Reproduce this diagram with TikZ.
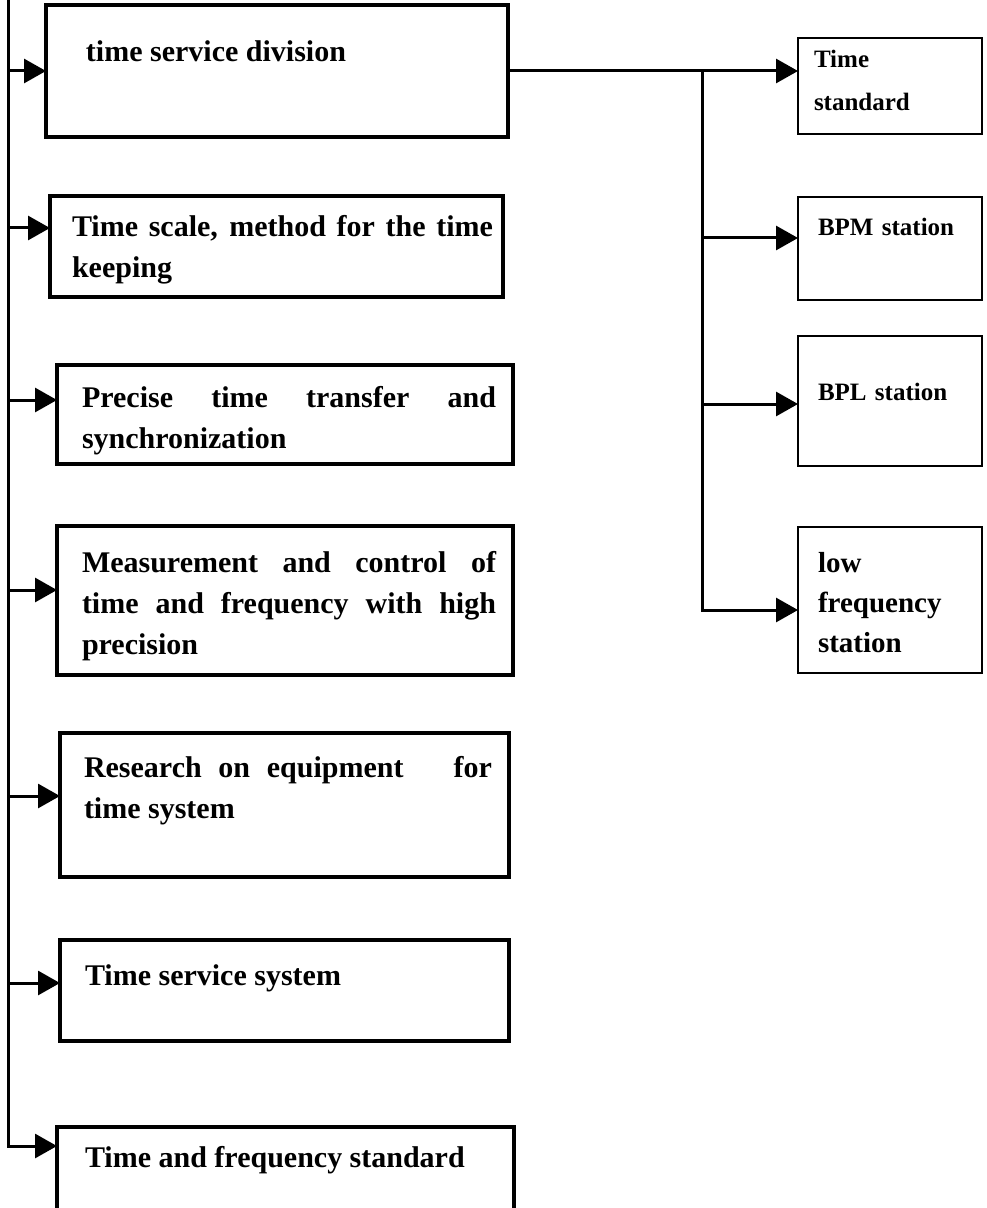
\documentclass[tikz,border=0pt]{standalone}
\usepackage{fontspec}
\setmainfont{Liberation Serif}
\usetikzlibrary{arrows.meta}
\hyphenpenalty=10000 % no hyphens in the boxes

\tikzset{
  unit/.style={draw, line width=2.2pt, anchor=north west, inner sep=0pt, outer sep=0pt,
    align=justify, font=\bfseries\fontsize{15}{20.5}\selectfont},
  station/.style={draw, line width=1.3pt, anchor=north west, inner sep=0pt, outer sep=0pt,
    text width=92pt, align=left, font=\bfseries\fontsize{12.5}{21.5}\selectfont},
  feed/.style={line width=1.5pt, -{Triangle[length=11pt,width=12pt]}},
  trunk/.style={line width=1.6pt},
}

\begin{document}
\begin{tikzpicture}[x=0.5pt, y=-0.5pt]    % one unit = one pixel of the scan
\clip (0,0) rectangle (986,1208);

% left column of units
\node[unit, text width=231pt, text height=28.5pt, text depth=37.5pt] (tsd) at (46,5)
    {\leftskip=20pt time service division\par};
\node[unit, text width=226.5pt, text height=20.5pt, text depth=30pt] (scale) at (50,196)
    {\leftskip=11pt\rightskip=5pt Time scale, method for the time\linebreak keeping\par};
\node[unit, text width=228pt, text height=21pt, text depth=28.5pt] (transfer) at (57,365)
    {\leftskip=12.5pt\rightskip=8.5pt Precise time transfer and\linebreak synchronization\par};
\node[unit, text width=228pt, text height=23pt, text depth=51.5pt] (measure) at (57,526)
    {\leftskip=12.5pt\rightskip=8.5pt Measurement and control of\linebreak
     time and frequency with high\linebreak precision\par};
\node[unit, text width=224.5pt, text height=22pt, text depth=50pt] (research) at (60,733)
    {\leftskip=12pt\rightskip=8.5pt Research on equipment\ \ \ for\linebreak time system\par};
\node[unit, text width=224.5pt, text height=22.5pt, text depth=28pt] (service) at (60,940)
    {\leftskip=12.5pt Time service system\par};
\node[unit, text width=228.5pt, text height=20pt, text depth=31pt] (standard) at (57,1127)
    {\leftskip=14pt Time and frequency standard\par};

% right column of stations
\node[station, text height=15pt, text depth=33pt] (ts) at (798,38)
    {\leftskip=8pt Time\\standard\par};
\node[station, text height=19.5pt, text depth=32pt] (bpm) at (798,197)
    {\leftskip=10pt BPM station\par};
\node[station, text height=32pt, text depth=33pt] (bpl) at (798,336)
    {\leftskip=10pt BPL station\par};
\node[station, text height=22.5pt, text depth=50.5pt,
      font=\bfseries\fontsize{14.5}{20}\selectfont] (lfs) at (798,527)
    {\leftskip=10pt low\\frequency\\station\par};

% left trunk
\coordinate (spine) at (8,0);
\path ([yshift=16pt]standard.west) coordinate (tip);
\draw[feed] (spine) |- (tip);
\foreach \b/\dy in {tsd/0, scale/9.25, transfer/7.25, measure/5.25, research/4.5, service/3.75}{
  \path ([yshift=\dy pt]\b.west) coordinate (tip);
  \draw[feed] (spine |- tip) -- (tip);
}

% right trunk
\draw[feed] (tsd.east) -- (tsd.east -| ts.west);
\coordinate (fork) at (tsd.east -| 702,0);
\path ([yshift=-5pt]lfs.west) coordinate (tip);
\draw[feed] (fork) |- (tip);
\foreach \b/\dy in {bpm/5.25, bpl/-1.5}{
  \path ([yshift=\dy pt]\b.west) coordinate (tip);
  \draw[feed] (fork |- tip) -- (tip);
}
\end{tikzpicture}
\end{document}
